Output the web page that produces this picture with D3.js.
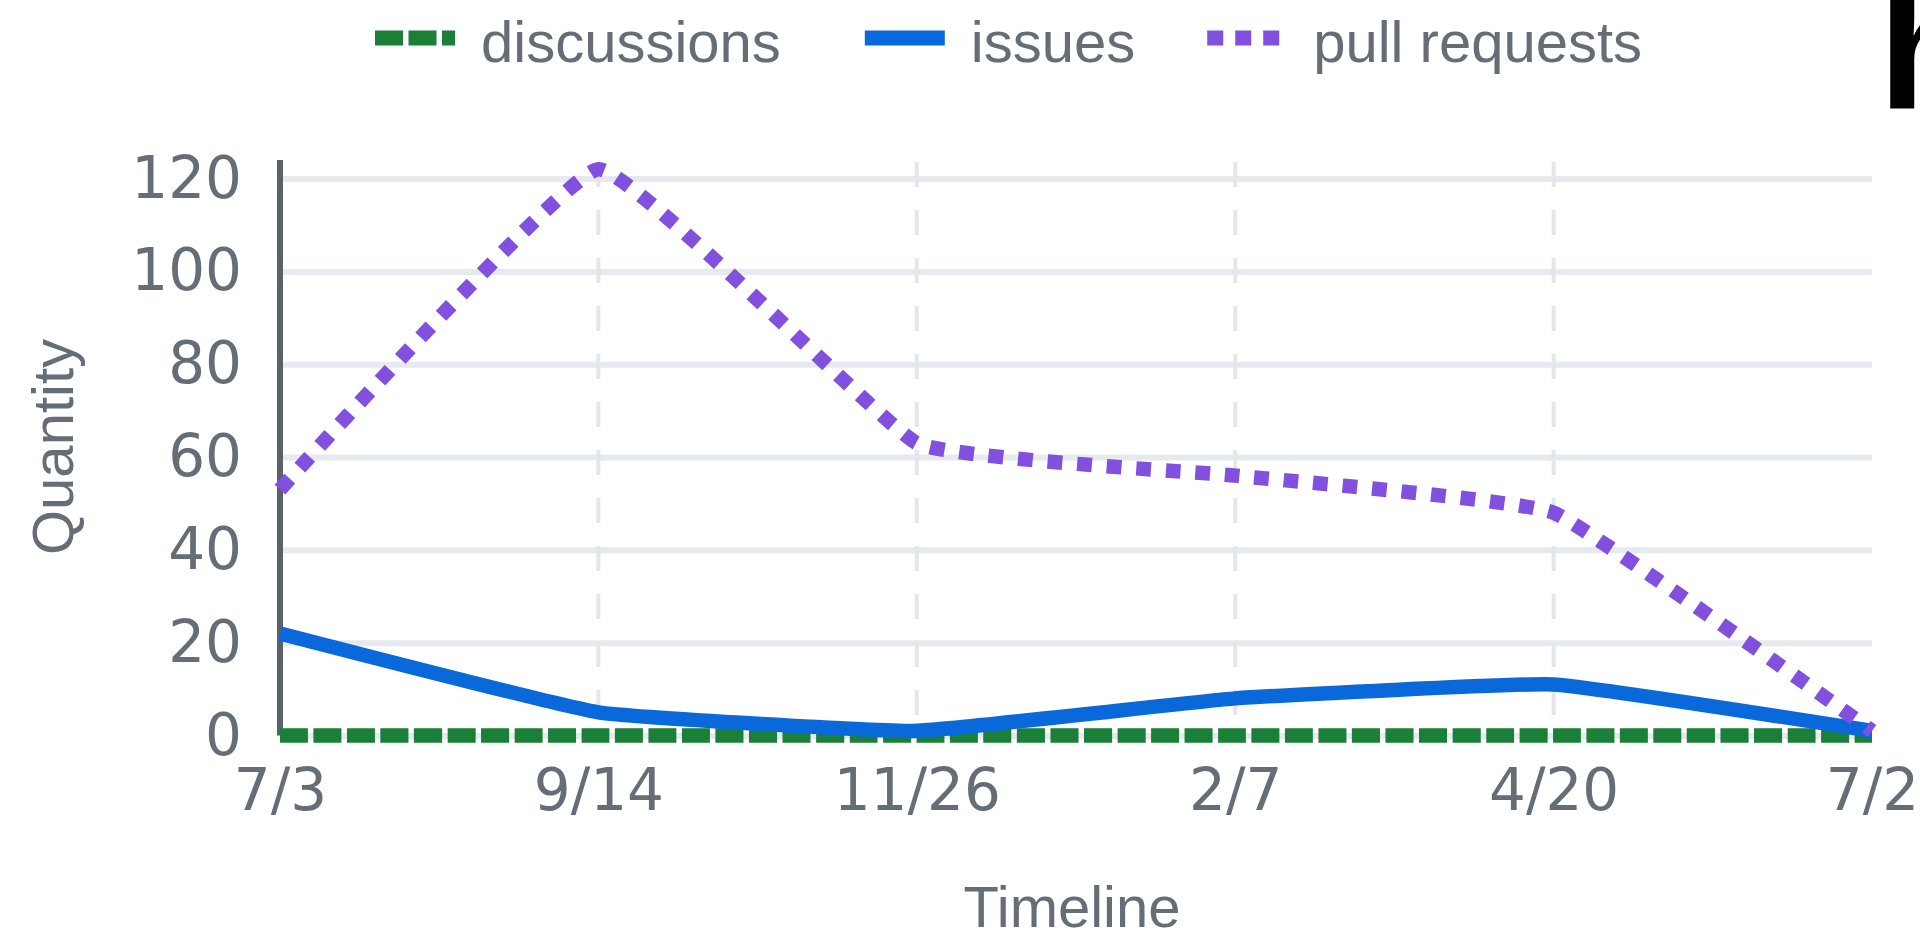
<!DOCTYPE html>
<html>
<head>
<meta charset="utf-8">
<script src="https://cdn.jsdelivr.net/npm/d3@7"></script>
<style>
  html, body { margin: 0; padding: 0; background: #ffffff; overflow: hidden; }
  svg { display: block; }
</style>
</head>
<body>
<svg id="chart" width="1920" height="938"></svg>
<script>
// ---- data ----
const dates = ["2023-07-03", "2023-09-14", "2023-11-26", "2024-02-07", "2024-04-20", "2024-07-02"];
const seriesNames = ["discussions", "issues", "pull requests"];
const discussions = [0, 0, 0, 0, 0, 0];
const issues = [22, 5, 1, 8, 11, 1];
const pullRequests = [53, 122, 63, 56, 48, 1];
const yTicks = [0, 20, 40, 60, 80, 100, 120];
const yMax = 124;

// ---- styles ----
const colors = { "discussions": "#1a7f37", "issues": "#0969da", "pull requests": "#8250df" };
const dashes = { "discussions": "28 5.5", "issues": null, "pull requests": "14.8 14.8" };
const textColor = "#656d76";

const svg = d3.select("#chart");
const margin = { left: 280, right: 1920 - 1872, top: 160, bottom: 938 - 735.5 };
const W = 1920, H = 938;

const parse = d3.timeParse("%Y-%m-%d");
const xDates = dates.map(parse);

const x = d3.scaleTime()
  .domain(d3.extent(xDates))
  .range([margin.left, W - margin.right]);
const y = d3.scaleLinear()
  .domain([0, yMax])
  .range([H - margin.bottom, margin.top]);

const series = [
  { name: "discussions", values: discussions },
  { name: "issues", values: issues },
  { name: "pull requests", values: pullRequests }
];

// horizontal grid
const gY = svg.append("g")
  .attr("transform", `translate(${margin.left},0)`)
  .call(d3.axisLeft(y).tickValues(yTicks).tickSize(-(W - margin.right - margin.left)).tickFormat(d3.format("d")).tickPadding(38));
gY.select(".domain").remove();
gY.selectAll(".tick line").attr("stroke", "#e6e9ed").attr("stroke-width", 6);
gY.selectAll(".tick text")
  .attr("fill", textColor)
  .style("font-family", "'DejaVu Sans', sans-serif")
  .style("font-size", "58px");

// x labels
const fmt = d3.timeFormat("%-m/%-d");
const gX = svg.append("g")
  .attr("transform", `translate(0,${H - margin.bottom})`)
  .call(d3.axisBottom(x).tickValues(xDates).tickSize(0).tickFormat(fmt).tickPadding(33));
gX.select(".domain").remove();
gX.selectAll(".tick text")
  .attr("fill", textColor)
  .attr("dy", "0.71em")
  .style("font-family", "'DejaVu Sans', sans-serif")
  .style("font-size", "58px");

// vertical dashed grid
svg.append("g").selectAll("line")
  .data(xDates.slice(1, -1))
  .join("line")
  .attr("x1", d => x(d)).attr("x2", d => x(d))
  .attr("y1", margin.top + 2).attr("y2", H - margin.bottom)
  .attr("stroke", "#e3e6ea")
  .attr("stroke-width", 4)
  .attr("stroke-dasharray", "25 23");

// y axis line
svg.append("line")
  .attr("x1", margin.left).attr("x2", margin.left)
  .attr("y1", y(yMax)).attr("y2", y(0))
  .attr("stroke", "#5b6168")
  .attr("stroke-width", 6);

// lines
const line = d3.line()
  .x((d, i) => x(xDates[i]))
  .y(d => y(d))
  .curve(d3.curveCardinal.tension(0.7));

svg.append("g").selectAll("path")
  .data(series)
  .join("path")
  .attr("d", d => line(d.values))
  .attr("fill", "none")
  .attr("stroke", d => colors[d.name])
  .attr("stroke-width", 14.5)
  .attr("stroke-linejoin", "round")
  .attr("stroke-dasharray", d => dashes[d.name]);

// axis titles
svg.append("text")
  .attr("transform", "translate(73,447) rotate(-90)")
  .attr("text-anchor", "middle")
  .attr("fill", textColor)
  .style("font-family", "'Liberation Sans', Arial, sans-serif")
  .style("font-size", "58px")
  .text("Quantity");

svg.append("text")
  .attr("x", 1072).attr("y", 927)
  .attr("text-anchor", "middle")
  .attr("fill", textColor)
  .style("font-family", "'Liberation Sans', Arial, sans-serif")
  .style("font-size", "58px")
  .text("Timeline");

// legend
const legend = svg.append("g");
let lx = 375;
const legendY = 38;
const itemGaps = [84, 72];
seriesNames.forEach((name, i) => {
  const g = legend.append("g");
  g.append("line")
    .attr("x1", lx).attr("x2", lx + 80)
    .attr("y1", legendY).attr("y2", legendY)
    .attr("stroke", colors[name])
    .attr("stroke-width", 15)
    .attr("stroke-dasharray", name === "pull requests" ? "16 12" : dashes[name]);
  const t = g.append("text")
    .attr("x", lx + 80 + 26).attr("y", 62)
    .attr("fill", textColor)
    .style("font-family", "'Liberation Sans', Arial, sans-serif")
    .style("font-size", "58px")
    .text(name);
  lx = lx + 80 + 26 + t.node().getComputedTextLength() + (itemGaps[i] || 0);
});

// cut-off heading glyph at top right
svg.append("text")
  .attr("x", 1878).attr("y", 109)
  .attr("fill", "#000")
  .style("font-family", "'Liberation Sans', Arial, sans-serif")
  .style("font-weight", "bold")
  .style("font-size", "175px")
  .text("h");
</script>
</body>
</html>
